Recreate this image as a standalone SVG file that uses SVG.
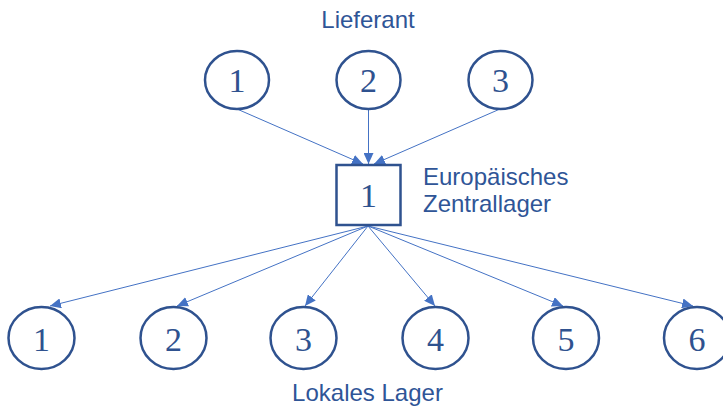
<svg xmlns="http://www.w3.org/2000/svg" width="723" height="408" viewBox="0 0 723 408">
<style>
.node{fill:#fff;stroke:#2F528F;stroke-width:2.5}
.num{font-family:"Liberation Serif",serif;font-size:34px;fill:#2F528F;text-anchor:middle}
.lbl{font-family:"Liberation Sans",Arial,sans-serif;font-size:24px;fill:#2F5597}
.edge{stroke:#4472C4;stroke-width:1;fill:none;marker-end:url(#ah)}
</style>
<defs>
<marker id="ah" markerUnits="userSpaceOnUse" markerWidth="12" markerHeight="10" refX="11" refY="5" orient="auto">
<path d="M0,0 L11,5 L0,10 z" fill="#4472C4"/>
</marker>
</defs>
<rect width="723" height="408" fill="#fff"/>
<g id="connectors">
<line class="edge" x1="237" y1="109" x2="363" y2="164"/>
<line class="edge" x1="368.5" y1="110" x2="368.5" y2="164"/>
<line class="edge" x1="500" y1="109" x2="374" y2="164"/>
<line class="edge" x1="368" y1="226" x2="50" y2="306"/>
<line class="edge" x1="368" y1="226" x2="177" y2="306"/>
<line class="edge" x1="368" y1="226" x2="305" y2="306"/>
<line class="edge" x1="368" y1="226" x2="435" y2="306"/>
<line class="edge" x1="368" y1="226" x2="563" y2="306"/>
<line class="edge" x1="368" y1="226" x2="693" y2="306"/>
</g>
<g id="label-lieferant"><text class="lbl" x="368" y="28" text-anchor="middle">Lieferant</text></g>
<g id="s1"><ellipse class="node" cx="237" cy="80" rx="32" ry="29"/><text class="num" x="237" y="92">1</text></g>
<g id="s2"><ellipse class="node" cx="368.5" cy="80" rx="32" ry="29"/><text class="num" x="368.5" y="92">2</text></g>
<g id="s3"><ellipse class="node" cx="500.5" cy="80" rx="32" ry="29"/><text class="num" x="500.5" y="92">3</text></g>
<g id="zl"><rect class="node" x="336.5" y="165" width="64" height="60"/><text class="num" x="368.5" y="207">1</text></g>
<g id="label-zl"><text class="lbl" x="423" y="185">Europäisches</text><text class="lbl" x="423" y="212">Zentrallager</text></g>
<g id="l1"><ellipse class="node" cx="41.5" cy="338" rx="33" ry="31"/><text class="num" x="41.5" y="351">1</text></g>
<g id="l2"><ellipse class="node" cx="173.5" cy="338" rx="33" ry="31"/><text class="num" x="173.5" y="351">2</text></g>
<g id="l3"><ellipse class="node" cx="303.5" cy="338" rx="33" ry="31"/><text class="num" x="303.5" y="351">3</text></g>
<g id="l4"><ellipse class="node" cx="435.5" cy="338" rx="33" ry="31"/><text class="num" x="435.5" y="351">4</text></g>
<g id="l5"><ellipse class="node" cx="566" cy="338" rx="33" ry="31"/><text class="num" x="566" y="351">5</text></g>
<g id="l6"><ellipse class="node" cx="697" cy="338" rx="33" ry="31"/><text class="num" x="697" y="351">6</text></g>
<g id="label-lokal"><text class="lbl" x="367.5" y="401" text-anchor="middle">Lokales Lager</text></g>
</svg>
